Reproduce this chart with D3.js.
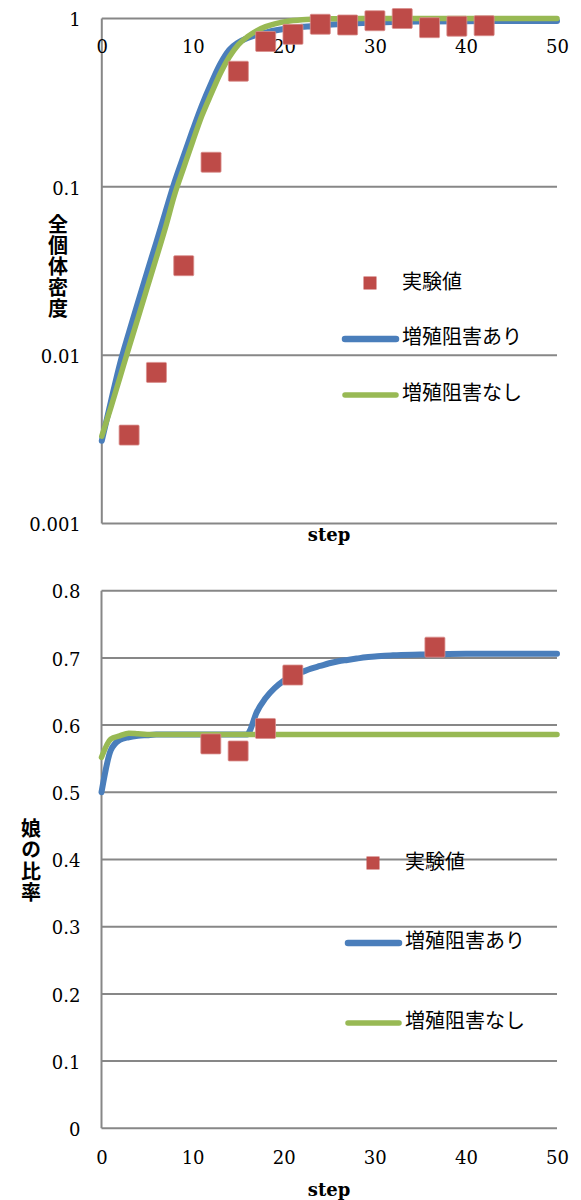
<!DOCTYPE html>
<html><head><meta charset="utf-8">
<script src="https://cdn.jsdelivr.net/npm/d3@7"></script>
<style>body{margin:0;background:#fff}svg{display:block}</style>
</head><body>
<svg id="c" width="581" height="1200"></svg>
<script>
// ---------- data ----------
const legendLabels = ["実験値", "増殖阻害あり", "増殖阻害なし"];
const xTicks = [0, 10, 20, 30, 40, 50];
const xTitle = "step";

// top chart: 全個体密度 (log)
const topYTitle = "全個体密度";
const topYTicks = [0.001, 0.01, 0.1, 1];
const topYTickLabels = ["0.001", "0.01", "0.1", "1"];
const topExpSteps = [3, 6, 9, 12, 15, 18, 21, 24, 27, 30, 33, 36, 39, 42];
const topExpValues = [0.00335, 0.0079, 0.034, 0.14, 0.486, 0.73, 0.805, 0.924, 0.915, 0.97, 1.0, 0.882, 0.90, 0.906];
const topWithSteps = [0,1,2,3,4,5,6,7,8,9,10,11,12,13,14,15,16,17,18,19,20,21,22,23,24,26,28,30,32,35,40,45,50];
const topWithValues = [0.0031,0.0053,0.0089,0.0137,0.0208,0.0314,0.047,0.071,0.107,0.153,0.218,0.305,0.41,0.535,0.65,0.72,0.765,0.80,0.825,0.848,0.866,0.88,0.892,0.90,0.91,0.925,0.937,0.946,0.953,0.959,0.964,0.966,0.966];
const topWithoutSteps = [0,1,2,3,4,5,6,7,8,9,10,11,12,13,14,15,16,17,18,19,20,21,22,23,24,26,30,40,50];
const topWithoutValues = [0.0033,0.0049,0.0074,0.0112,0.0168,0.0253,0.038,0.0575,0.09,0.13,0.187,0.265,0.355,0.47,0.59,0.70,0.78,0.845,0.895,0.93,0.955,0.972,0.984,0.991,0.995,0.998,1.0,1.0,1.0];

// bottom chart: 娘の比率
const botYTitle = "娘の比率";
const botYTicks = [0, 0.1, 0.2, 0.3, 0.4, 0.5, 0.6, 0.7, 0.8];
const botYTickLabels = ["0", "0.1", "0.2", "0.3", "0.4", "0.5", "0.6", "0.7", "0.8"];
const botExpSteps = [12, 15, 18, 21, 36.6];
const botExpValues = [0.572, 0.5615, 0.595, 0.6745, 0.716];
const botWithSteps = [0,1,2,3,4,5,6,10,15,16,16.3,17,18,19,20,21,22,23,24,25,26,27,28,29,30,32,35,40,50];
const botWithValues = [0.50,0.562,0.578,0.582,0.584,0.585,0.586,0.586,0.586,0.586,0.592,0.618,0.640,0.655,0.666,0.674,0.679,0.684,0.688,0.692,0.695,0.697,0.699,0.701,0.702,0.704,0.705,0.706,0.706];
const botWithoutSteps = [0,1,2,3,4,5,10,20,30,40,50];
const botWithoutValues = [0.552,0.579,0.584,0.588,0.587,0.586,0.586,0.586,0.586,0.586,0.586];

// ---------- style ----------
const C_BLUE = "#4A7EBB", C_GREEN = "#98B954", C_RED = "#BE4B48", C_GRID = "#878787";
const NUM_FONT = "'DejaVu Serif', serif";
const JP_FONT = "'Noto Sans CJK JP', sans-serif";

const svg = d3.select("#c");

function drawChart(o) {
  const g = svg.append("g");
  const x = d3.scaleLinear().domain([0, 50]).range(o.xRange);
  const y = o.yScale;
  // gridlines
  g.selectAll(".grid").data(o.yTicks).join("line")
    .attr("x1", x(0)).attr("x2", x(50))
    .attr("y1", d => y(d)).attr("y2", d => y(d))
    .attr("stroke", C_GRID).attr("stroke-width", 2);
  // left axis line
  g.append("line").attr("x1", x(0)).attr("x2", x(0))
    .attr("y1", y.range()[0]).attr("y2", y.range()[1])
    .attr("stroke", C_GRID).attr("stroke-width", 2);
  // y axis labels
  const ya = g.append("g").attr("transform", `translate(${x(0)},1.5)`)
    .call(d3.axisLeft(y).tickValues(o.yTicks).tickSize(0).tickPadding(21)
      .tickFormat((d, i) => o.yTickLabels[i]));
  ya.select(".domain").remove();
  ya.selectAll("text").attr("font-family", NUM_FONT).attr("font-size", 18).attr("fill", "#000");
  // x axis labels
  const xa = g.append("g").attr("transform", `translate(0,${o.xLabelY})`)
    .call(d3.axisBottom(x).tickValues(xTicks).tickSize(0).tickPadding(0));
  xa.select(".domain").remove();
  xa.selectAll("text").attr("y", 0).attr("dy", "0.35em")
    .attr("font-family", NUM_FONT).attr("font-size", 18).attr("fill", "#000");
  // x title
  g.append("text").attr("x", o.xTitleX).attr("y", o.xTitleY).attr("dy", "0.35em")
    .attr("text-anchor", "middle").attr("font-family", NUM_FONT)
    .attr("font-weight", "bold").attr("font-size", 18).text(xTitle);
  // y title (vertical writing)
  g.append("text").attr("x", o.yTitleX).attr("y", o.yTitleY0)
    .style("writing-mode", "vertical-rl").style("text-orientation", "upright")
    .style("letter-spacing", (o.yTitleStep - 20) + "px")
    .attr("text-anchor", "start")
    .attr("font-family", JP_FONT).attr("font-weight", "bold").attr("font-size", 20)
    .text(o.yTitle);
  // lines
  const line = d3.line().x(d => x(d[0])).y(d => y(d[1])).curve(d3.curveMonotoneX);
  g.append("path").datum(d3.zip(o.withSteps, o.withValues)).attr("d", line)
    .attr("fill", "none").attr("stroke", C_BLUE).attr("stroke-width", 6)
    .attr("stroke-linecap", "round").attr("stroke-linejoin", "round");
  g.append("path").datum(d3.zip(o.withoutSteps, o.withoutValues)).attr("d", line)
    .attr("fill", "none").attr("stroke", C_GREEN).attr("stroke-width", 5.5)
    .attr("stroke-linecap", "round").attr("stroke-linejoin", "round");
  // experiment squares
  g.append("g").selectAll("rect").data(d3.zip(o.expSteps, o.expValues)).join("rect")
    .attr("x", d => x(d[0]) - 10).attr("y", d => y(d[1]) - 10)
    .attr("width", 20).attr("height", 20).attr("rx", 1)
    .attr("fill", C_RED).attr("stroke", "#D98F8D").attr("stroke-width", 0.8);
  // legend
  const L = o.legend;
  g.append("rect").attr("x", L.sqX - 6.5).attr("y", L.ys[0] + 1 - 6.5)
    .attr("width", 13).attr("height", 13).attr("fill", C_RED);
  [C_BLUE, C_GREEN].forEach((c, i) => {
    g.append("line").attr("x1", L.lineX1).attr("x2", L.lineX2)
      .attr("y1", L.ys[i + 1] + 2).attr("y2", L.ys[i + 1] + 2)
      .attr("stroke", c).attr("stroke-width", i === 0 ? 6.5 : 5.5).attr("stroke-linecap", "round");
  });
  g.append("g").selectAll("text").data(legendLabels).join("text")
    .attr("x", L.textX).attr("y", (d, i) => L.ys[i]).attr("dy", "0.35em")
    .attr("font-family", JP_FONT).attr("font-size", 20).attr("fill", "#000")
    .text(d => d);
}

drawChart({
  xRange: [101.8, 557],
  yScale: d3.scaleLog().domain([0.001, 1]).range([523.5, 18.5]),
  yTicks: topYTicks, yTickLabels: topYTickLabels,
  xLabelY: 47, xTitleX: 329, xTitleY: 535,
  yTitle: topYTitle, yTitleX: 58, yTitleY0: 214, yTitleStep: 21,
  withSteps: topWithSteps, withValues: topWithValues,
  withoutSteps: topWithoutSteps, withoutValues: topWithoutValues,
  expSteps: topExpSteps, expValues: topExpValues,
  legend: { sqX: 370, lineX1: 345, lineX2: 396, textX: 402, ys: [282, 337, 393] }
});

drawChart({
  xRange: [101.5, 557],
  yScale: d3.scaleLinear().domain([0, 0.8]).range([1128.3, 590.7]),
  yTicks: botYTicks, yTickLabels: botYTickLabels,
  xLabelY: 1158, xTitleX: 329, xTitleY: 1190,
  yTitle: botYTitle, yTitleX: 31, yTitleY0: 818, yTitleStep: 21.5,
  withSteps: botWithSteps, withValues: botWithValues,
  withoutSteps: botWithoutSteps, withoutValues: botWithoutValues,
  expSteps: botExpSteps, expValues: botExpValues,
  legend: { sqX: 373, lineX1: 348, lineX2: 399, textX: 405, ys: [862, 941, 1021] }
});
</script>
</body></html>
